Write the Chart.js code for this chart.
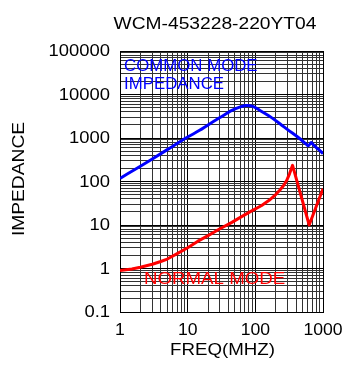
<!DOCTYPE html>
<html>
<head>
<meta charset="utf-8">
<script src="https://cdn.jsdelivr.net/npm/chart.js@4.4.1/dist/chart.umd.min.js"></script>
<style>
  html, body { margin: 0; padding: 0; background: #fff; }
  #wrap { width: 343px; height: 369px; }
</style>
</head>
<body>
<div id="wrap"><canvas id="impChart" width="343" height="369"></canvas></div>
<script>
// chart values
const chartTitle = 'WCM-453228-220YT04';
const xTitle = 'FREQ(MHZ)';
const yTitle = 'IMPEDANCE';

const commonFreq = [1, 2, 3, 5, 10, 15, 20, 30, 45, 60, 75, 90, 117, 160, 231, 300, 456, 560, 610, 670, 720, 804, 900, 1000];
const commonImp  = [118, 225, 330, 540, 1050, 1500, 2000, 2950, 4300, 5200, 5600, 5400, 4300, 3200, 2130, 1560, 960, 730, 660, 790, 700, 595, 510, 436];

const normalFreq = [1, 1.5, 2, 3, 4, 5, 7, 10, 14, 20, 30, 45, 60, 83, 124, 160, 200, 231, 260, 290, 320, 355, 625, 804, 1000];
const normalImp  = [0.9, 0.97, 1.07, 1.25, 1.45, 1.65, 2.2, 3.0, 4.2, 5.7, 8.2, 11.5, 15, 20, 28, 37, 50, 64, 80, 105, 150, 235, 10, 28, 68];

const xTickVals = [1, 10, 100, 1000];
const xTickLabels = ['1', '10', '100', '1000'];
const yTickVals = [0.1, 1, 10, 100, 1000, 10000, 100000];
const yTickLabels = ['0.1', '1', '10', '100', '1000', '10000', '100000'];

// labels written inside the plot, anchored in data units
const notes = [
    { lines: ['COMMON MODE', 'IMPEDANCE'], x: 1.15, y: [35600, 13500], color: '#0000ff', size: 16, sx: 1.05 },
    { lines: ['NORMAL MODE'], x: 2.26, y: [0.445], color: '#ff0000', size: 17, sx: 1.1 }
];

const FONT = 'Arial, "Liberation Sans", sans-serif';

// grid ticks 1..9 per decade
function decadeTicks(min, max) {
    const out = [];
    for (let e = Math.round(Math.log10(min)); e < Math.round(Math.log10(max)); e++) {
        for (let m = 1; m <= 9; m++) out.push({ value: +(m * Math.pow(10, e)).toPrecision(3) });
    }
    out.push({ value: max });
    return out;
}

function isDecade(v) {
    const l = Math.log10(v);
    return Math.abs(l - Math.round(l)) < 1e-6;
}

function wideText(ctx, text, x, y, sx, align) {
    ctx.save();
    ctx.translate(x, y);
    ctx.scale(sx, 1);
    ctx.textAlign = align;
    ctx.fillText(text, 0, 0);
    ctx.restore();
}

// all the text is drawn here, slightly stretched like the original artwork
const textPlugin = {
    id: 'textPlugin',
    afterDraw(chart) {
        const ctx = chart.ctx;
        const xs = chart.scales.x, ys = chart.scales.y;
        const area = chart.chartArea;
        ctx.save();
        ctx.fillStyle = '#000';
        ctx.textBaseline = 'alphabetic';

        ctx.font = '16px ' + FONT;
        wideText(ctx, chartTitle, 215, 29, 1.2, 'center');

        ctx.textBaseline = 'middle';
        yTickVals.forEach(function(v, i) {
            wideText(ctx, yTickLabels[i], area.left - 10, ys.getPixelForValue(v) + 1, 1.15, 'right');
        });
        ctx.textBaseline = 'alphabetic';
        xTickVals.forEach(function(v, i) {
            wideText(ctx, xTickLabels[i], xs.getPixelForValue(v), area.bottom + 23, 1.1, 'center');
        });

        wideText(ctx, xTitle, (area.left + area.right) / 2 + 1, 355, 1.17, 'center');

        ctx.save();
        ctx.translate(24, 179);
        ctx.rotate(-Math.PI / 2);
        ctx.scale(1.2, 1);
        ctx.textAlign = 'center';
        ctx.fillText(yTitle, 0, 0);
        ctx.restore();

        notes.forEach(function(n) {
            ctx.fillStyle = n.color;
            ctx.font = n.size + 'px ' + FONT;
            n.lines.forEach(function(t, i) {
                wideText(ctx, t, xs.getPixelForValue(n.x), ys.getPixelForValue(n.y[i]), n.sx, 'left');
            });
        });
        ctx.restore();
    }
};

function gridColor(c) {
    return c.tick && isDecade(c.tick.value) ? '#000' : '#333';
}

const ctx = document.getElementById('impChart').getContext('2d');
new Chart(ctx, {
    type: 'line',
    data: {
        datasets: [
            {
                label: 'Common mode',
                data: commonFreq.map((f, i) => ({ x: f, y: commonImp[i] })),
                borderColor: '#0000ff',
                borderWidth: 3,
                pointRadius: 0,
                cubicInterpolationMode: 'monotone',
                fill: false
            },
            {
                label: 'Normal mode',
                data: normalFreq.map((f, i) => ({ x: f, y: normalImp[i] })),
                borderColor: '#ff0000',
                borderWidth: 3,
                pointRadius: 0,
                tension: 0,
                borderJoinStyle: 'round',
                fill: false
            }
        ]
    },
    options: {
        responsive: false,
        animation: false,
        layout: { padding: { top: 51, right: 20, bottom: 0, left: 0 } },
        plugins: {
            legend: { display: false },
            tooltip: { enabled: false }
        },
        scales: {
            x: {
                type: 'logarithmic',
                min: 1,
                max: 1000,
                ticks: { display: false },
                grid: { color: gridColor, lineWidth: 1, drawTicks: false },
                border: { display: true, color: '#000', width: 1 },
                afterBuildTicks: function(s) { s.ticks = decadeTicks(1, 1000); },
                afterFit: function(s) { s.height = 57; }
            },
            y: {
                type: 'logarithmic',
                min: 0.1,
                max: 100000,
                ticks: { display: false },
                grid: { color: gridColor, lineWidth: 1, drawTicks: false },
                border: { display: true, color: '#000', width: 1 },
                afterBuildTicks: function(s) { s.ticks = decadeTicks(0.1, 100000); },
                afterFit: function(s) { s.width = 120; }
            }
        }
    },
    plugins: [textPlugin]
});
</script>
</body>
</html>
